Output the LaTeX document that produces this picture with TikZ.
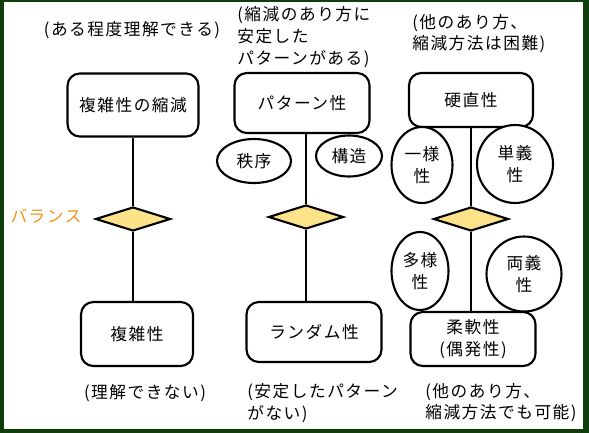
\documentclass[tikz,border=0pt]{standalone}
\usepackage{fontspec}
\usepackage{tikz}
\usetikzlibrary{positioning,shapes.geometric}
\newfontfamily\jpfont[LetterSpace=9]{Noto Sans CJK JP}
\definecolor{framegreen}{HTML}{0F3D0C}
\definecolor{balance}{HTML}{F39418}
\definecolor{pivotfill}{HTML}{FCE38A}

\begin{document}
\begin{tikzpicture}[x=0.02cm,y=-0.02cm,
    every node/.style={font=\jpfont\fontsize{9.5}{12.3}\selectfont},
    box/.style={draw,line width=1.2pt,rounded corners=7pt,fill=white,align=center,inner sep=0pt},
    blob/.style={draw,ellipse,line width=1.2pt,fill=white,align=center,inner sep=0pt},
    pivotbox/.style={draw,diamond,line width=1.2pt,fill=pivotfill,minimum width=1.5cm,minimum height=0.48cm,inner sep=0pt},
    link/.style={line width=1.2pt},
    note/.style={align=left,inner sep=0pt}]
    % frame
    \useasboundingbox (0,0) rectangle (589,433);
    \fill[framegreen] (0,0) rectangle (589,433);
    \fill[white] (4,2) rectangle (583,429);
    % left column
    \begin{scope}
      \node[note] (topl) at (132,30) {(ある程度理解できる)};
      \node[box,minimum width=2.62cm,minimum height=1.26cm] (reduce) at (133,105) {複雑性の縮減};
      \node[pivotbox] (pivl) at (133,219) {};
      \node[box,minimum width=2.24cm,minimum height=1.28cm] (complex) at (137,334) {複雑性};
      \node[note] (botl) at (145,393) {(理解できない)};
      \node[note,text=balance] (balance) at (46,216) {バランス};
      \draw[link] (reduce.south) -- (pivl.north);
      \draw[link] (pivl.south) -- (pivl.south |- complex.north);
    \end{scope}
    % middle column
    \begin{scope}
      \node[note,anchor=west] (topm) at (237,37) {(縮減のあり方に\\安定した\\パターンがある)};
      \node[box,minimum width=2.7cm,minimum height=1.2cm] (pattern) at (302,103) {パターン性};
      \node[blob,minimum width=1.48cm,minimum height=0.88cm] (order) at (254,161) {秩序};
      \node[blob,minimum width=1.32cm,minimum height=0.82cm] (struct) at (349,156) {構造};
      \node[pivotbox] (pivm) at (306,217) {};
      \node[box,minimum width=2.7cm,minimum height=1.2cm] (random) at (314,332) {ランダム性};
      \node[note,anchor=west] (botm) at (247,403) {(安定したパターン\\がない)};
      \draw[link] (pivm.north) -- (pivm.north |- pattern.south);
      \draw[link] (pivm.south) -- (pivm.south |- random.north);
    \end{scope}
    % right column
    \begin{scope}
      \node[note,anchor=west] (topr) at (412,33.5) {(他のあり方、\\縮減方法は困難)};
      \node[box,minimum width=2.48cm,minimum height=1.08cm] (rigid) at (471,100) {硬直性};
      \node[blob,minimum width=1.22cm,minimum height=1.52cm] (uniform) at (422,165) {一様\\性};
      \node[blob,minimum width=1.52cm,minimum height=1.56cm] (univocal) at (515,164) {単義\\性};
      \node[pivotbox] (pivr) at (471,219) {};
      \node[blob,minimum width=1.14cm,minimum height=1.56cm] (diverse) at (420,271) {多様\\性};
      \node[blob,minimum width=1.5cm,minimum height=1.5cm] (ambig) at (524,274) {両義\\性};
      \node[box,minimum width=2.5cm,minimum height=1.08cm] (flexible) at (473,339) {柔軟性\\(偶発性)};
      \node[note,anchor=west] (botr) at (425,402.5) {(他のあり方、\\縮減方法でも可能)};
      \draw[link] (pivr.north) -- (pivr.north |- rigid.south);
      \draw[link] (pivr.south) -- (pivr.south |- flexible.north);
    \end{scope}
\end{tikzpicture}
\end{document}
